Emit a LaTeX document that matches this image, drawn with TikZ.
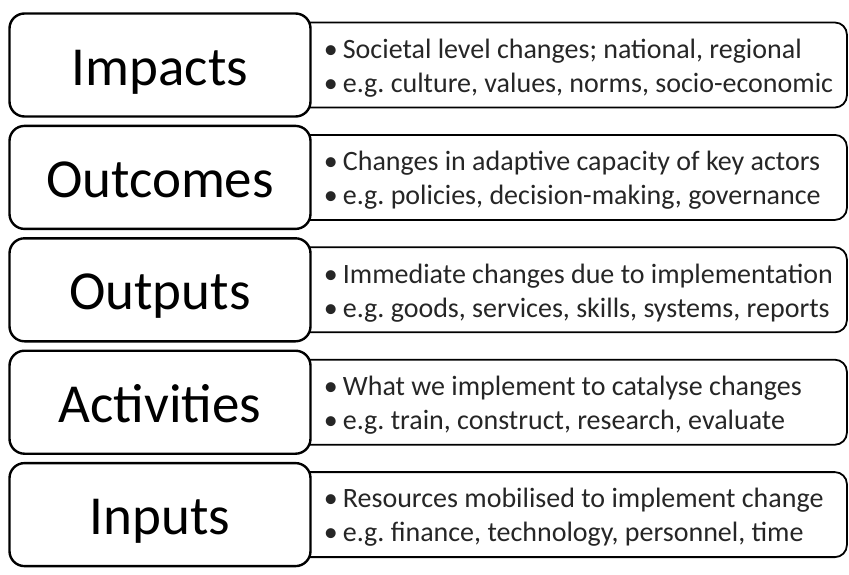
\documentclass[tikz,border=0pt]{standalone}
\usepackage{fontspec}
\setmainfont{Carlito}
\usetikzlibrary{positioning, backgrounds}
\tikzset{
  stage/.style={draw, line width=2.4pt, rounded corners=15pt, fill=white,
    minimum width=301pt, minimum height=103pt, text height=40pt, text depth=0pt,
    font=\fontsize{55}{60}\selectfont},
  descbox/.style={draw, line width=1.8pt, rounded corners=12pt, fill=white,
    minimum width=686pt, minimum height=85pt, anchor=west},
  desc/.style={anchor=west, align=left, inner sep=0pt, text=black!85,
    font=\fontsize{28}{34}\selectfont\frenchspacing},
}
\newcommand{\bul}{\makebox[19pt][l]{\textbullet}}

\begin{document}
\begin{tikzpicture}[x=1pt,y=-1pt]
  \useasboundingbox (0,0) rectangle (849,574);
  % stages, top to bottom
  \node[stage] (imp) at (160,65) {Impacts};
  \node[stage, below=7pt of imp] (outc) {Outcomes};
  \node[stage, below=7pt of outc] (outp) {Outputs};
  \node[stage, below=7pt of outp] (act) {Activities};
  \node[stage, below=7pt of act] (inp) {Inputs};
  % description boxes behind the stages
  \begin{scope}[on background layer]
    \node[descbox] (impD) at (imp.center) {};
    \node[descbox] (outcD) at (outc.center) {};
    \node[descbox] (outpD) at (outp.center) {};
    \node[descbox] (actD) at (act.center) {};
    \node[descbox] (inpD) at (inp.center) {};
  \end{scope}
  % descriptions
  \node[desc, right=12pt of imp, yshift=-3pt] (impT)
    {\bul Societal level changes; national, regional\\
     \bul e.g. culture, values, norms, socio-economic};
  \node[desc, right=12pt of outc, yshift=-3pt] (outcT)
    {\bul Changes in adaptive capacity of key actors\\
     \bul e.g. policies, decision-making, governance};
  \node[desc, right=12pt of outp, yshift=-3pt] (outpT)
    {\bul Immediate changes due to implementation\\
     \bul e.g. goods, services, skills, systems, reports};
  \node[desc, right=12pt of act, yshift=-3pt] (actT)
    {\bul What we implement to catalyse changes\\
     \bul e.g. train, construct, research, evaluate};
  \node[desc, right=12pt of inp, yshift=-3pt] (inpT)
    {\bul Resources mobilised to implement change\\
     \bul e.g. finance, technology, personnel, time};
\end{tikzpicture}
\end{document}
